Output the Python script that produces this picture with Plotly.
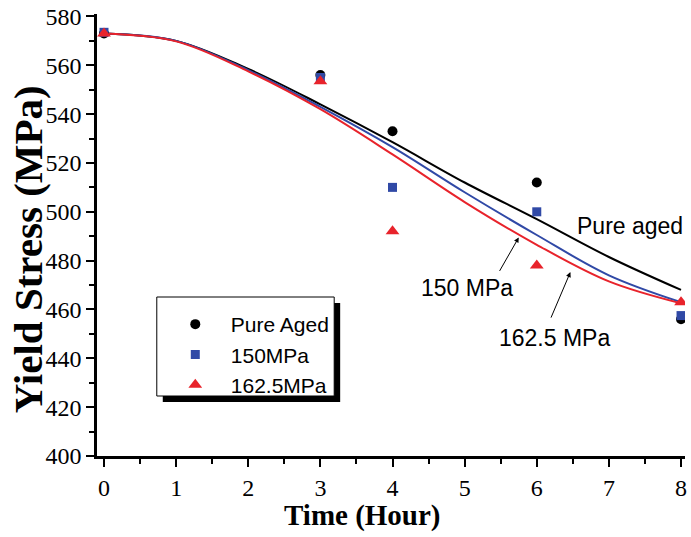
import plotly.graph_objects as go

# Measured points
time_h = [0, 3, 4, 6, 8]
pure_aged = [573, 556, 533, 512, 456]
mpa150 = [573.5, 555, 510, 500, 457.5]
mpa162 = [573, 553.5, 492, 478, 463]

# Fitted curves
fit_x = [0, 1, 2, 3, 4, 5, 6, 7, 8]
fit_pure = [573, 570, 558.5, 544, 528.5, 512, 497, 481.5, 468]
fit_150 = [573, 570, 558, 543, 526.5, 508, 490.5, 474, 463]
fit_162 = [573, 569.8, 557.5, 542, 523.5, 504, 486.5, 471.5, 462.5]

BLACK = "#000000"
BLUE = "#3049a6"
RED = "#e8232b"

fig = go.Figure()

for y, c in [(fit_pure, BLACK), (fit_150, BLUE), (fit_162, RED)]:
    fig.add_trace(go.Scatter(x=fit_x, y=y, mode="lines", line=dict(color=c, width=2, shape="spline"),
                             showlegend=False, hoverinfo="skip"))

fig.add_trace(go.Scatter(x=time_h, y=pure_aged, mode="markers", name="Pure Aged", legendgroup="a",
                         marker=dict(symbol="circle", size=10, color=BLACK)))
fig.add_trace(go.Scatter(x=time_h, y=mpa150, mode="markers", name="150MPa", legendgroup="b",
                         marker=dict(symbol="square", size=9, color=BLUE)))
fig.add_trace(go.Scatter(x=time_h, y=mpa162, mode="markers", name="162.5MPa", legendgroup="c",
                         marker=dict(symbol="triangle-up", size=12, color=RED)))

L, R, T, B = 97, 4, 14, 81
W, H = 691, 537
pw, ph = W - L - R, H - T - B

def px(xp):
    return (xp - L) / pw

def py(yp):
    return (H - B - yp) / ph

axis_common = dict(showline=True, linecolor="black", linewidth=2.5, ticks="outside", ticklen=8,
                   tickwidth=2, tickcolor="black", showgrid=False, zeroline=False,
                   tickfont=dict(family="Liberation Serif", size=24, color="black"))

fig.update_xaxes(range=[-0.097, 8.055], dtick=1, tick0=0,
                 minor=dict(dtick=0.5, ticklen=5, tickwidth=2, tickcolor="black", ticks="outside"),
                 **axis_common)
fig.update_yaxes(range=[400, 581], dtick=20, tick0=400,
                 minor=dict(dtick=10, ticklen=5, tickwidth=2, tickcolor="black", ticks="outside"),
                 **axis_common)

ann_font = dict(family="Liberation Sans", size=23, color="black")
annotations = [
    dict(x=px(363), y=py(515), xref="paper", yref="paper", text="<b>Time (Hour)</b>", showarrow=False,
         xanchor="center", yanchor="middle",
         font=dict(family="Liberation Serif", size=29, color="black")),
    dict(x=px(28), y=py(249), xref="paper", yref="paper", text="<b>Yield Stress (MPa)</b>",
         xanchor="center", yanchor="middle",
         textangle=-90, showarrow=False, font=dict(family="Liberation Serif", size=41, color="black")),
    dict(x=7.295, y=494, text="Pure aged", showarrow=False, font=ann_font),
    dict(x=5.03, y=468.7, text="150 MPa", showarrow=False, font=ann_font),
    dict(x=6.246, y=448.3, text="162.5 MPa", showarrow=False, font=ann_font),
    dict(x=5.75, y=489.5, text="", showarrow=True, ax=-20, ay=35, arrowhead=2, arrowsize=1,
         arrowwidth=1, arrowcolor="black"),
    dict(x=6.466, y=475.3, text="", showarrow=True, ax=-20, ay=47, arrowhead=2, arrowsize=1,
         arrowwidth=1, arrowcolor="black"),
]

# legend frame with drop shadow
fig.add_shape(type="rect", xref="paper", yref="paper", x0=px(163), x1=px(341), y0=py(402), y1=py(303),
              fillcolor="black", line=dict(width=0), layer="above")
fig.add_shape(type="rect", xref="paper", yref="paper", x0=px(157), x1=px(335), y0=py(396), y1=py(297),
              fillcolor="white", line=dict(width=1, color="black"), layer="above")

fig.update_layout(
    width=W, height=H, margin=dict(l=L, r=R, t=T, b=B),
    paper_bgcolor="white", plot_bgcolor="white",
    annotations=annotations,
    legend=dict(x=px(160), y=py(304), xanchor="left", yanchor="top", bgcolor="rgba(0,0,0,0)",
                borderwidth=0, tracegroupgap=0, itemwidth=61,
                font=dict(family="Liberation Sans", size=21, color="black")),
)

fig.write_html("out.html", config={"displayModeBar": False},
               post_script="document.body.style.margin='0';document.body.style.overflow='hidden';")
